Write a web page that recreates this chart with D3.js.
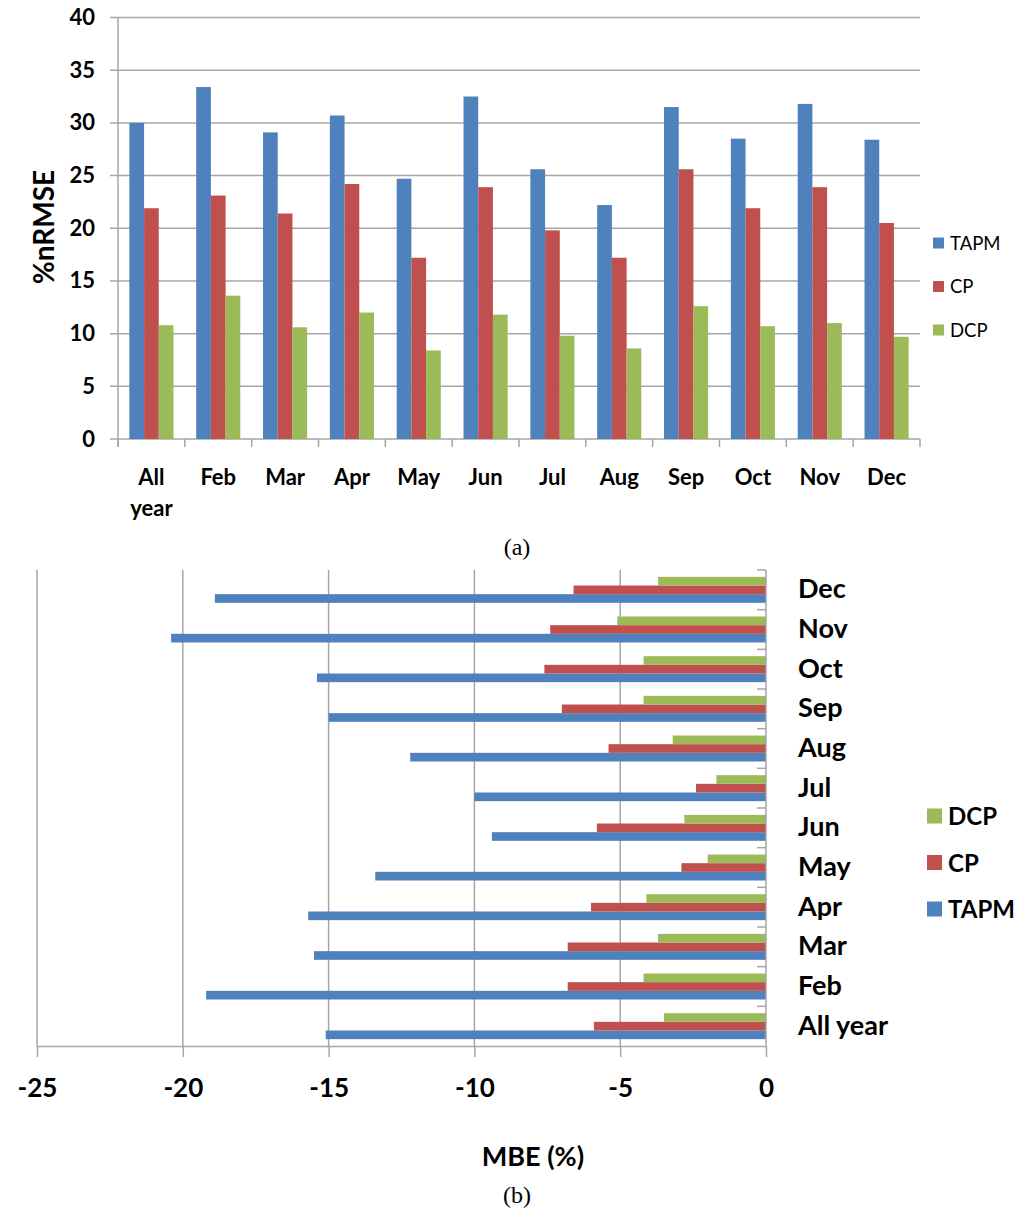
<!DOCTYPE html>
<html>
<head>
<meta charset="utf-8">
<script src="https://cdn.jsdelivr.net/npm/d3@7"></script>
<style>
  body { margin: 0; background: #fff; }
  svg { display: block; }
  text { font-family: Lato, "Open Sans", sans-serif; fill: #000; }
</style>
</head>
<body>
<svg id="chart" width="1024" height="1215"></svg>
<script>
// categories shared by both panels
const categories = ["All year", "Feb", "Mar", "Apr", "May", "Jun", "Jul", "Aug", "Sep", "Oct", "Nov", "Dec"];
const seriesNames = ["TAPM", "CP", "DCP"];
const seriesColors = ["#4F81BD", "#C0504D", "#9BBB59"];

// (a) %nRMSE
const nrmseTAPM = [30.0, 33.4, 29.1, 30.7, 24.7, 32.5, 25.6, 22.2, 31.5, 28.5, 31.8, 28.4];
const nrmseCP   = [21.9, 23.1, 21.4, 24.2, 17.2, 23.9, 19.8, 17.2, 25.6, 21.9, 23.9, 20.5];
const nrmseDCP  = [10.8, 13.6, 10.6, 12.0, 8.4, 11.8, 9.8, 8.6, 12.6, 10.7, 11.0, 9.7];
const nrmseTicks = [0, 5, 10, 15, 20, 25, 30, 35, 40];

// (b) MBE (%)
const mbeTAPM = [-15.1, -19.2, -15.5, -15.7, -13.4, -9.4, -10.0, -12.2, -15.0, -15.4, -20.4, -18.9];
const mbeCP   = [-5.9, -6.8, -6.8, -6.0, -2.9, -5.8, -2.4, -5.4, -7.0, -7.6, -7.4, -6.6];
const mbeDCP  = [-3.5, -4.2, -3.7, -4.1, -2.0, -2.8, -1.7, -3.2, -4.2, -4.2, -5.1, -3.7];
const mbeTicks = [-25, -20, -15, -10, -5, 0];

const gridColor = "#a6a6a6";
const svg = d3.select("#chart");

// ---------- panel (a) ----------
const a = { left: 118, right: 920, top: 17.5, bottom: 439 };
const nrmseValues = [nrmseTAPM, nrmseCP, nrmseDCP];

const xA = d3.scaleBand().domain(categories).range([a.left, a.right])
    .paddingInner(0.34).paddingOuter(0.17);
const xASub = d3.scaleBand().domain(seriesNames).range([0, xA.bandwidth()]);
const yA = d3.scaleLinear().domain([0, 40]).range([a.bottom, a.top]);

const gA = svg.append("g");

// horizontal gridlines
gA.selectAll("line.grid")
    .data(nrmseTicks)
    .enter()
    .append("line")
    .attr("x1", a.left - 8)
    .attr("x2", a.right)
    .attr("y1", d => yA(d))
    .attr("y2", d => yA(d))
    .style("stroke", gridColor)
    .style("stroke-width", 1.5);

// y axis line
gA.append("line")
    .attr("x1", a.left).attr("x2", a.left)
    .attr("y1", a.top).attr("y2", a.bottom + 8)
    .style("stroke", gridColor).style("stroke-width", 1.5);

// category boundary ticks
gA.selectAll("line.btick")
    .data(d3.range(categories.length + 1))
    .enter()
    .append("line")
    .attr("x1", i => a.left + i * xA.step())
    .attr("x2", i => a.left + i * xA.step())
    .attr("y1", a.bottom)
    .attr("y2", a.bottom + 8)
    .style("stroke", gridColor).style("stroke-width", 1.5);

// bars
seriesNames.forEach((s, si) => {
    gA.append("g")
        .selectAll("rect")
        .data(categories.map((c, i) => ({ c: c, v: nrmseValues[si][i] })))
        .enter()
        .append("rect")
        .attr("x", d => xA(d.c) + xASub(s))
        .attr("y", d => yA(d.v))
        .attr("width", xASub.bandwidth())
        .attr("height", d => yA(0) - yA(d.v))
        .attr("fill", seriesColors[si]);
});

// y tick labels
const yAxisA = d3.axisLeft(yA).tickValues(nrmseTicks).tickSize(0).tickPadding(23);
gA.append("g")
    .attr("transform", `translate(${a.left},0)`)
    .call(yAxisA)
    .call(g => g.select(".domain").remove())
    .selectAll("text")
    .style("font-family", "Lato")
    .style("font-weight", "bold")
    .style("font-size", "22px");

// x labels
const xAxisA = d3.axisBottom(xA).tickSize(0).tickPadding(0).tickFormat("");
const xg = gA.append("g")
    .attr("transform", `translate(0,${a.bottom})`)
    .call(xAxisA)
    .call(g => g.select(".domain").remove());
xg.selectAll(".tick").each(function (d) {
    const words = d === "All year" ? ["All", "year"] : [d];
    const t = d3.select(this).append("text")
        .attr("text-anchor", "middle")
        .style("font-weight", "bold")
        .style("font-size", "22px");
    words.forEach((w, wi) => {
        t.append("tspan").attr("x", 0).attr("y", 46 + wi * 31).text(w);
    });
});

// y title
gA.append("text")
    .attr("transform", "translate(54,227) rotate(-90)")
    .attr("text-anchor", "middle")
    .style("font-weight", "bold")
    .style("font-size", "28px")
    .text("%nRMSE");

// legend (a)
const legA = gA.append("g");
seriesNames.forEach((s, si) => {
    const cy = 243 + si * 43.5;
    legA.append("rect")
        .attr("x", 933).attr("y", cy - 5.5)
        .attr("width", 11).attr("height", 11)
        .attr("fill", seriesColors[si]);
    legA.append("text")
        .attr("x", 950).attr("y", cy + 6.5)
        .style("font-size", "18.5px")
        .text(s);
});

svg.append("text")
    .attr("x", 517).attr("y", 555)
    .attr("text-anchor", "middle")
    .style("font-family", "'Liberation Serif', serif")
    .style("font-size", "24px")
    .text("(a)");

// ---------- panel (b) ----------
const b = { left: 37, right: 766, top: 570, bottom: 1046 };
const mbeValues = [mbeTAPM, mbeCP, mbeDCP];
const catsTopDown = categories.slice().reverse();
const subOrder = ["DCP", "CP", "TAPM"];

const xB = d3.scaleLinear().domain([-25, 0]).range([b.left, b.right]);
const yB = d3.scaleBand().domain(catsTopDown).range([b.top, b.bottom])
    .paddingInner(0.345).paddingOuter(0.1725);
const yBSub = d3.scaleBand().domain(subOrder).range([0, yB.bandwidth()]);

const gB = svg.append("g");

// vertical gridlines
gB.selectAll("line.vgrid")
    .data(mbeTicks.slice(0, -1))
    .enter()
    .append("line")
    .attr("x1", d => xB(d)).attr("x2", d => xB(d))
    .attr("y1", b.top).attr("y2", b.bottom)
    .style("stroke", gridColor).style("stroke-width", 1.5);

// x axis with ticks and labels
const xAxisB = d3.axisBottom(xB).tickValues(mbeTicks).tickSizeInner(11).tickSizeOuter(0).tickPadding(22);
const xgB = gB.append("g")
    .attr("transform", `translate(0,${b.bottom})`)
    .call(xAxisB);
xgB.select(".domain").style("stroke", gridColor).style("stroke-width", 1.5);
xgB.selectAll(".tick line").style("stroke", gridColor).style("stroke-width", 1.5);
xgB.selectAll(".tick text")
    .style("font-family", "Lato")
    .style("font-weight", "bold")
    .style("font-size", "26px")
    .text(d => d3.format("d")(d).replace("−", "-"));

// bars
seriesNames.forEach((s, si) => {
    gB.append("g")
        .selectAll("rect")
        .data(categories.map((c, i) => ({ c: c, v: mbeValues[si][i] })))
        .enter()
        .append("rect")
        .attr("x", d => xB(d.v))
        .attr("y", d => yB(d.c) + yBSub(s))
        .attr("width", d => xB(0) - xB(d.v))
        .attr("height", yBSub.bandwidth())
        .attr("fill", seriesColors[si]);
});

// zero axis with category ticks
gB.append("line")
    .attr("x1", xB(0)).attr("x2", xB(0))
    .attr("y1", b.top).attr("y2", b.bottom)
    .style("stroke", gridColor).style("stroke-width", 1.5);
gB.selectAll("line.ctick")
    .data(d3.range(categories.length))
    .enter()
    .append("line")
    .attr("x1", xB(0) - 9).attr("x2", xB(0))
    .attr("y1", i => b.top + i * yB.step())
    .attr("y2", i => b.top + i * yB.step())
    .style("stroke", gridColor).style("stroke-width", 1.5);

// category labels
const yAxisB = d3.axisRight(yB).tickSize(0).tickPadding(32);
gB.append("g")
    .attr("transform", `translate(${xB(0)},0)`)
    .call(yAxisB)
    .call(g => g.select(".domain").remove())
    .selectAll("text")
    .style("font-family", "Lato")
    .style("font-weight", "bold")
    .style("font-size", "27px");

// x title
svg.append("text")
    .attr("x", 533).attr("y", 1166)
    .attr("text-anchor", "middle")
    .style("font-weight", "bold")
    .style("font-size", "27px")
    .text("MBE (%)");

// legend (b)
seriesNames.slice().reverse().forEach((s, k) => {
    const si = seriesNames.indexOf(s);
    const cy = 816 + k * 46.5;
    gB.append("rect")
        .attr("x", 927).attr("y", cy - 7.5)
        .attr("width", 15).attr("height", 15)
        .attr("fill", seriesColors[si]);
    gB.append("text")
        .attr("x", 948).attr("y", cy + 9)
        .style("font-weight", "bold")
        .style("font-size", "24px")
        .text(s);
});

svg.append("text")
    .attr("x", 517).attr("y", 1203)
    .attr("text-anchor", "middle")
    .style("font-family", "'Liberation Serif', serif")
    .style("font-size", "24px")
    .text("(b)");
</script>
</body>
</html>
